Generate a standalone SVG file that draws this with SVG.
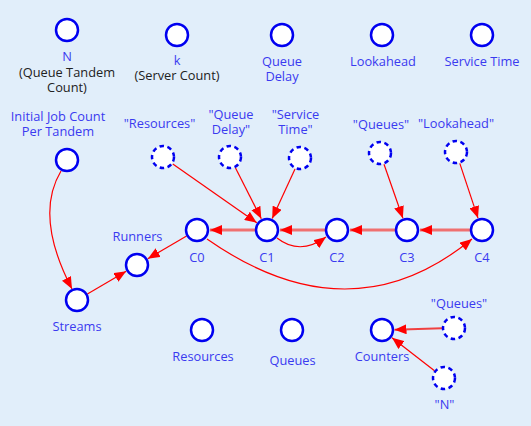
<svg xmlns="http://www.w3.org/2000/svg" width="531" height="426" viewBox="0 0 531 426">
<style>
.n{fill:#fff;stroke:#0000f0;stroke-width:2.5}
.d{fill:#fff;stroke:#0000f0;stroke-width:2.5;stroke-dasharray:4.5,3.5}
text{font-family:"Open Sans","Noto Sans",sans-serif;font-size:12.8px;text-anchor:middle;fill:#3a3af0}
text.b{fill:#222}
.e{fill:none;stroke:#f00;stroke-width:1.2}
.t{fill:none;stroke:#f07070;stroke-width:3}
</style>
<defs>
<marker id="a" markerUnits="userSpaceOnUse" viewBox="0 0 12 10" refX="12" refY="5" markerWidth="12" markerHeight="10" orient="auto">
<path d="M0,0L12,5L0,10z" fill="#f00"/>
</marker>
</defs>
<rect width="531" height="426" fill="#e1eefa"/>
<g id="connectors">
<path class="t" d="M255,230L210,230" marker-end="url(#a)"/>
<path class="t" d="M325,230L280,230" marker-end="url(#a)"/>
<path class="t" d="M395,230L350,230" marker-end="url(#a)"/>
<path class="t" d="M470,230L420,230" marker-end="url(#a)"/>
<path class="e" d="M172.8,163.9L256.8,222.8" marker-end="url(#a)"/>
<path class="e" d="M235.4,167.7L261.3,218.8" marker-end="url(#a)"/>
<path class="e" d="M295,168.9L272.2,218.6" marker-end="url(#a)"/>
<path class="e" d="M384,164.3L402.9,218.2" marker-end="url(#a)"/>
<path class="e" d="M459.8,163.4L478,218.1" marker-end="url(#a)"/>
<path class="e" d="M87.4,294L126.2,271.3" marker-end="url(#a)"/>
<path class="e" d="M186.6,236L147.8,258.7" marker-end="url(#a)"/>
<path class="e" d="M61,171Q34,216 72,289" marker-end="url(#a)"/>
<path class="e" d="M277,238Q300,256 326,237" marker-end="url(#a)"/>
<path class="e" d="M207,239Q350,339 472,239" marker-end="url(#a)"/>
<path class="t" style="stroke-width:2;stroke:#f04040" d="M442,328.3L394.5,329.7" marker-end="url(#a)"/>
<path class="e" d="M434.5,370.7L392,337.7" marker-end="url(#a)"/>
</g>
<g id="N"><circle class="n" cx="67" cy="30" r="11"/><text x="67" y="61">N</text><text class="b" x="67" y="77">(Queue Tandem</text><text class="b" x="67" y="92">Count)</text></g>
<g id="k"><circle class="n" cx="177" cy="35" r="11"/><text x="177" y="65">k</text><text class="b" x="177" y="80">(Server Count)</text></g>
<g id="QueueDelay"><circle class="n" cx="282" cy="35" r="11"/><text x="282" y="66">Queue</text><text x="282" y="81">Delay</text></g>
<g id="Lookahead"><circle class="n" cx="382" cy="35" r="11"/><text x="383" y="66">Lookahead</text></g>
<g id="ServiceTime"><circle class="n" cx="482" cy="35" r="11"/><text x="482" y="66">Service Time</text></g>
<g id="InitialJobCount"><circle class="n" cx="67" cy="160" r="11"/><text x="58" y="121">Initial Job Count</text><text x="58" y="136">Per Tandem</text></g>
<g id="ResourcesRef"><circle class="d" cx="163" cy="157" r="11"/><text x="159.5" y="128">"Resources"</text></g>
<g id="QueueDelayRef"><circle class="d" cx="230" cy="157" r="11"/><text x="231" y="119">"Queue</text><text x="231" y="134">Delay"</text></g>
<g id="ServiceTimeRef"><circle class="d" cx="300" cy="158" r="11"/><text x="295.5" y="119">"Service</text><text x="295.5" y="134">Time"</text></g>
<g id="QueuesRef"><circle class="d" cx="380" cy="153" r="11"/><text x="381" y="129">"Queues"</text></g>
<g id="LookaheadRef"><circle class="d" cx="456" cy="152" r="11"/><text x="456" y="128">"Lookahead"</text></g>
<g id="C0"><circle class="n" cx="197" cy="230" r="11"/><text x="197" y="262">C0</text></g>
<g id="C1"><circle class="n" cx="267" cy="230" r="11"/><text x="267" y="262">C1</text></g>
<g id="C2"><circle class="n" cx="337" cy="230" r="11"/><text x="337" y="262">C2</text></g>
<g id="C3"><circle class="n" cx="407" cy="230" r="11"/><text x="407" y="262">C3</text></g>
<g id="C4"><circle class="n" cx="482" cy="230" r="11"/><text x="482" y="262">C4</text></g>
<g id="Runners"><circle class="n" cx="137" cy="265" r="11"/><text x="137.5" y="241">Runners</text></g>
<g id="Streams"><circle class="n" cx="77" cy="300" r="11"/><text x="77" y="331">Streams</text></g>
<g id="Resources"><circle class="n" cx="202" cy="330" r="11"/><text x="203" y="361">Resources</text></g>
<g id="Queues"><circle class="n" cx="292" cy="330" r="11"/><text x="292.5" y="365">Queues</text></g>
<g id="Counters"><circle class="n" cx="382" cy="330" r="11"/><text x="382" y="361">Counters</text></g>
<g id="QueuesRef2"><circle class="d" cx="454" cy="328" r="11"/><text x="459" y="308">"Queues"</text></g>
<g id="NRef"><circle class="d" cx="444" cy="378" r="11"/><text x="444.5" y="409">"N"</text></g>
</svg>
